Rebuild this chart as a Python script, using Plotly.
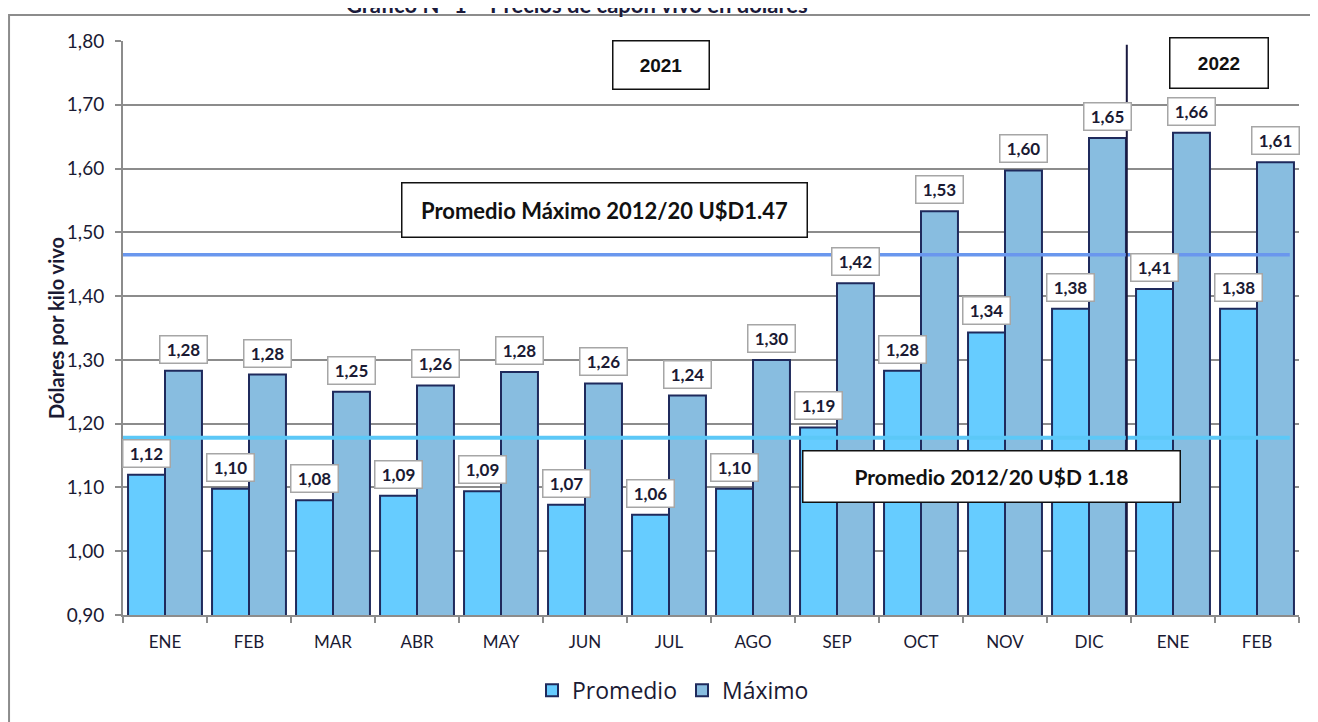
import plotly.graph_objects as go

# --- Datos ---
meses = ["ENE", "FEB", "MAR", "ABR", "MAY", "JUN", "JUL", "AGO", "SEP", "OCT", "NOV", "DIC", "ENE", "FEB"]
promedio = [1.12, 1.098, 1.08, 1.087, 1.094, 1.073, 1.057, 1.098, 1.194, 1.283, 1.343, 1.38, 1.411, 1.38]
maximo = [1.283, 1.277, 1.25, 1.26, 1.281, 1.263, 1.244, 1.30, 1.42, 1.533, 1.597, 1.648, 1.656, 1.61]
ref_promedio = 1.178
ref_maximo = 1.465

x = list(range(len(meses)))
borde = "#1F2A5C"
gris = "#8C8C8C"

fig = go.Figure()
fig.add_trace(go.Bar(x=x, y=promedio, name="Promedio",
                     marker=dict(color="#66CCFF", line=dict(color=borde, width=2))))
fig.add_trace(go.Bar(x=x, y=maximo, name="Máximo",
                     marker=dict(color="#88BDE0", line=dict(color=borde, width=2))))

# lineas de referencia
fig.add_shape(type="line", xref="x", yref="y", x0=-0.5, x1=13.39, y0=ref_maximo, y1=ref_maximo,
              line=dict(color="#6A97EE", width=3.5))
fig.add_shape(type="line", xref="x", yref="y", x0=-0.5, x1=13.39, y0=ref_promedio, y1=ref_promedio,
              line=dict(color="#5CC8F7", width=4))
# separador de años
fig.add_shape(type="line", xref="x", yref="y", x0=11.45, x1=11.45, y0=0.9, y1=1.794,
              line=dict(color="#1A1A40", width=2))

# marco exterior
fig.add_shape(type="rect", xref="paper", yref="paper", x0=-0.0969, x1=1.05, y0=-0.25, y1=1.0453,
              line=dict(color=gris, width=2), fillcolor="rgba(0,0,0,0)", layer="below")

# etiquetas de datos
def etiqueta(xv, yv):
    fig.add_annotation(x=xv, y=yv, xref="x", yref="y", text=f"{yv:.2f}".replace(".", ","),
                       showarrow=False, yanchor="bottom", yshift=7, width=40, height=20,
                       bgcolor="white", bordercolor="#A6A6A6", borderwidth=1.5, borderpad=3,
                       font=dict(family="Lato", size=17, color="#1A1A33", weight="bold"))

for i in x:
    etiqueta(i - 0.22, promedio[i])
    etiqueta(i + 0.22, maximo[i])

def caja(xv, yv, texto, w, h, fam, size):
    fig.add_annotation(x=xv, y=yv, xref="x", yref="y", text=texto, showarrow=False,
                       width=w, height=h, bgcolor="white", bordercolor="#111111",
                       borderwidth=1.5, borderpad=4,
                       font=dict(family=fam, size=size, color="#111111", weight="bold"))

caja(5.23, 1.535, "Promedio Máximo 2012/20 U$D1.47", 396, 45, "Lato", 22)
caja(9.84, 1.1174, "Promedio 2012/20 U$D 1.18", 368, 42, "Lato", 21)
caja(5.905, 1.7624, "2021", 87, 39, "Liberation Sans", 19)
caja(12.55, 1.7655, "2022", 89, 41, "Liberation Sans", 19)

# titulo (recortado arriba)
fig.add_annotation(x=0.3861, y=1.0366, xref="paper", yref="paper", xanchor="center", yanchor="bottom",
                   text="Gráfico N° 1 – Precios de capón vivo en dólares", showarrow=False,
                   font=dict(family="Lato", size=22, color="#1A1A3A", weight="bold"))

# titulo eje y
fig.add_annotation(x=-0.0689, y=0.5, xref="paper", yref="paper", textangle=-90,
                   text="Dólares por kilo vivo", showarrow=False,
                   font=dict(family="Lato", size=20, color="#1A1A33", weight="bold"))

fig.update_layout(
    width=1318, height=722,
    margin=dict(l=115, r=27, t=33, b=115),
    paper_bgcolor="white", plot_bgcolor="white",
    barmode="group", bargap=0.12, bargroupgap=0,
    separators=",.",
    font=dict(family="Lato", color="#1A1A33"),
    legend=dict(orientation="h", x=0.4677, xanchor="center", y=-0.131, yanchor="middle",
                font=dict(family="Open Sans", size=23, color="#1A1A33")),
    showlegend=True,
)
fig.update_xaxes(range=[-0.5, 13.5], tickmode="array", tickvals=x, ticktext=meses, ticks="",
                 showgrid=False, showline=True, linecolor=gris, linewidth=2, zeroline=False,
                 ticklabelstandoff=11, tickfont=dict(family="Lato", size=17, color="#1A1A33"),
                 minor=dict(tickmode="linear", tick0=-0.5, dtick=1, ticks="outside", ticklen=6,
                            tickcolor=gris, tickwidth=2, showgrid=False))
fig.update_yaxes(range=[0.9, 1.8], dtick=0.1, tickformat=".2f", ticks="outside", ticklen=6,
                 tickcolor=gris, tickwidth=2, showgrid=True, gridcolor=gris, gridwidth=2,
                 showline=True, linecolor=gris, linewidth=2, zeroline=False,
                 ticklabelstandoff=7, tickfont=dict(family="Lato", size=19, color="#1A1A33"))

fig.write_html("out.html")
